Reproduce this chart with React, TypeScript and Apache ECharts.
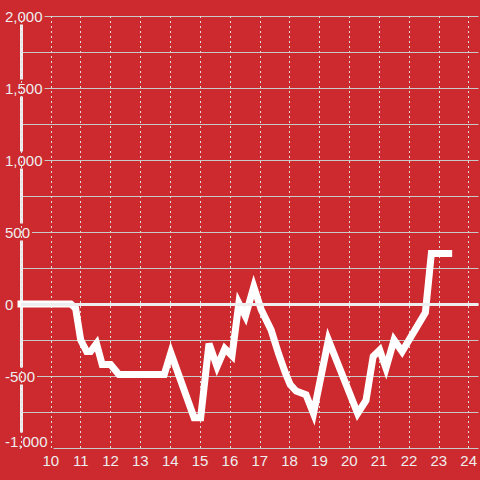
import React, { useEffect, useRef } from "react";
import * as echarts from "echarts";

const hours: number[] = [
  9.0, 10.67, 10.83, 11.0, 11.2, 11.33, 11.53, 11.72, 12.0, 12.28, 13.8, 14.02, 14.8, 15.02,
  15.3, 15.57, 15.83, 16.07, 16.3, 16.52, 16.8, 17.05, 17.38, 17.63, 17.86, 18.02, 18.22,
  18.55, 18.8, 19.3, 20.28, 20.56, 20.8, 21.02, 21.23, 21.5, 21.77, 22.55, 22.75, 23.33,
];
const values: number[] = [
  0, 0, -30, -250, -330, -330, -275, -420, -420, -490, -490, -340, -790, -790,
  -275, -435, -310, -360, 5, -85, 120, -40, -180, -345, -480, -560, -605,
  -630, -760, -250, -760, -670, -365, -320, -445, -250, -330, -60, 350, 350,
];
const yLabelTicks: number[] = [-1000, -500, 0, 500, 1000, 1500, 2000];

const BG = "#cc2a2f";
const FONT = "'Liberation Sans', Arial, sans-serif";

export default function App() {
  const ref = useRef<HTMLDivElement>(null);
  useEffect(() => {
    if (!ref.current) return;
    const chart = echarts.init(ref.current, null, { renderer: "svg" });
    const data = hours.map((h, i) => [h, values[i]]);
    const yMin = yLabelTicks[0];
    chart.setOption({
      animation: false,
      backgroundColor: BG,
      grid: { left: 21, right: 0, top: 16, bottom: 32, containLabel: false },
      xAxis: {
        type: "value",
        min: 9,
        max: 24.33,
        interval: 1,
        z: 1.5,
        axisLine: { show: false },
        axisTick: { show: false },
        axisLabel: {
          color: "#eeeeee",
          fontFamily: FONT,
          fontSize: 15,
          margin: 5,
          showMinLabel: false,
          showMaxLabel: false,
        },
        splitLine: {
          show: true,
          showMaxLine: false,
          lineStyle: { color: "#dddddd", width: 1, type: [2, 3] },
        },
      },
      yAxis: [
        {
          type: "value",
          min: yMin,
          max: yLabelTicks[yLabelTicks.length - 1],
          interval: 500,
          position: "left",
          z: 1,
          axisLine: { show: true, lineStyle: { color: "#eeeeee", width: 3 } },
          axisTick: { show: false },
          splitLine: { show: false },
          axisLabel: {
            color: "#eeeeee",
            fontFamily: FONT,
            fontSize: 15,
            align: "left",
            margin: 18,
            backgroundColor: BG,
            padding: [1, 2, 1, 2],
            formatter: (v: number) =>
              v === yMin ? "{low|" + v.toLocaleString("en-US") + "}" : v.toLocaleString("en-US"),
            rich: {
              low: {
                color: "#eeeeee",
                fontFamily: FONT,
                fontSize: 15,
                padding: [0, 4, 14, 0],
              },
            },
          },
        },
        {
          type: "value",
          min: yMin,
          max: yLabelTicks[yLabelTicks.length - 1],
          interval: 250,
          position: "right",
          z: 0,
          axisLine: { show: false },
          axisTick: { show: false },
          axisLabel: { show: false },
          splitLine: { show: true, lineStyle: { color: "#c8c8c8", width: 1 } },
        },
      ],
      series: [
        {
          type: "line",
          yAxisIndex: 0,
          data,
          showSymbol: false,
          symbol: "none",
          z: 2,
          lineStyle: { color: "#ffffff", width: 7, cap: "square", join: "miter" },
          markLine: {
            silent: true,
            symbol: "none",
            label: { show: false },
            lineStyle: { color: "#eeeeee", width: 3, type: "solid" },
            data: [{ yAxis: 0 }],
          },
        },
      ],
    });
    return () => chart.dispose();
  }, []);
  return <div ref={ref} style={{ width: 480, height: 480, position: "absolute", left: 0, top: 0 }} />;
}
